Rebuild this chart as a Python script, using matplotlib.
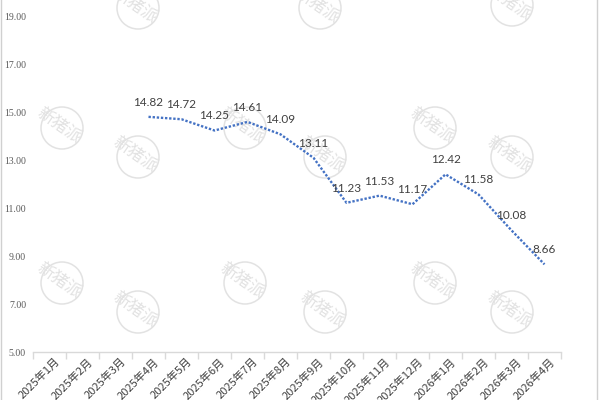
import matplotlib
matplotlib.use("Agg")
import matplotlib.pyplot as plt
from matplotlib.patches import Ellipse, Rectangle
from matplotlib.transforms import ScaledTranslation
import numpy as np

plt.rcParams['font.family'] = ['Noto Sans CJK SC', 'DejaVu Sans']

categories = ["2025年1月", "2025年2月", "2025年3月", "2025年4月", "2025年5月", "2025年6月",
              "2025年7月", "2025年8月", "2025年9月", "2025年10月", "2025年11月", "2025年12月",
              "2026年1月", "2026年2月", "2026年3月", "2026年4月"]
values = [None, None, None, 14.82, 14.72, 14.25, 14.61, 14.09, 13.11, 11.23, 11.53, 11.17,
          12.42, 11.58, 10.08, 8.66]
yticks = [5, 7, 9, 11, 13, 15, 17, 19]

fig = plt.figure(figsize=(6, 4), dpi=100)
ax = fig.add_axes([33/600, 48/400, 528/600, 352/400])
ax.set_facecolor("none")
ax.set_zorder(2)

x = np.arange(len(categories))
y = np.array([np.nan if v is None else v for v in values], dtype=float)
ax.plot(x, y, color="#4472C4", lw=1.7, linestyle=(0, (1, 0.75)),
        dash_capstyle="butt", zorder=3)

for xi, v in zip(x, values):
    if v is None:
        continue
    ax.annotate(f"{v:.2f}", (xi, v), xytext=(0, 6.5), textcoords="offset points",
                ha="center", va="bottom", fontsize=8.5, color="#404040",
                family=["Lato", "DejaVu Sans"], zorder=4)

ax.set_xlim(-0.5, len(categories) - 0.5)
ax.set_ylim(5, 19.7)
ax.set_yticks(yticks)
ax.set_yticklabels([f"{t:.2f}" for t in yticks], family=["Liberation Serif"], fontsize=7,
                   color="#595959")
ax.tick_params(axis="y", length=0, pad=5)

ax.set_xticks(x)
ax.set_xticklabels(categories, rotation=45, ha="right", rotation_mode="anchor",
                   fontsize=8, color="#404040")
ax.tick_params(axis="x", which="major", length=0, pad=3)
shift = ScaledTranslation(5 / 100, 0, fig.dpi_scale_trans)
for lbl in ax.get_xticklabels():
    lbl.set_transform(lbl.get_transform() + shift)
ax.set_xticks(np.arange(-0.5, len(categories)), minor=True)
ax.tick_params(axis="x", which="minor", length=5, color="#d9d9d9", width=1)

for s in ["top", "right", "left"]:
    ax.spines[s].set_visible(False)
ax.spines["bottom"].set_color("#d9d9d9")
ax.spines["bottom"].set_linewidth(1)

# watermarks
wm = [(138, 8), (320, 8), (512, 5), (62, 128), (245, 128), (435, 128),
      (138, 157), (325, 157), (512, 157), (62, 283), (245, 283), (435, 283),
      (138, 312), (325, 312), (512, 312)]
for cx, cy in wm:
    fig.add_artist(Ellipse((cx / 600, (400 - cy) / 400), 42 / 600, 42 / 400,
                           transform=fig.transFigure, fill=False, edgecolor="#e2e2e2",
                           lw=1.1, zorder=1))
    fig.text((cx - 3) / 600, (400 - cy + 3) / 400, "新猪派", rotation=-35, ha="center",
             va="center", fontsize=12, color="#e2e2e2", zorder=1,
             family=["Noto Sans CJK SC"])

# chart border
fig.add_artist(Rectangle((1 / 600, -0.02), 596 / 600, 1.04, transform=fig.transFigure,
                         fill=False, edgecolor="#d0d0d0", lw=1, zorder=1))

fig.savefig("out.png", dpi=100)
